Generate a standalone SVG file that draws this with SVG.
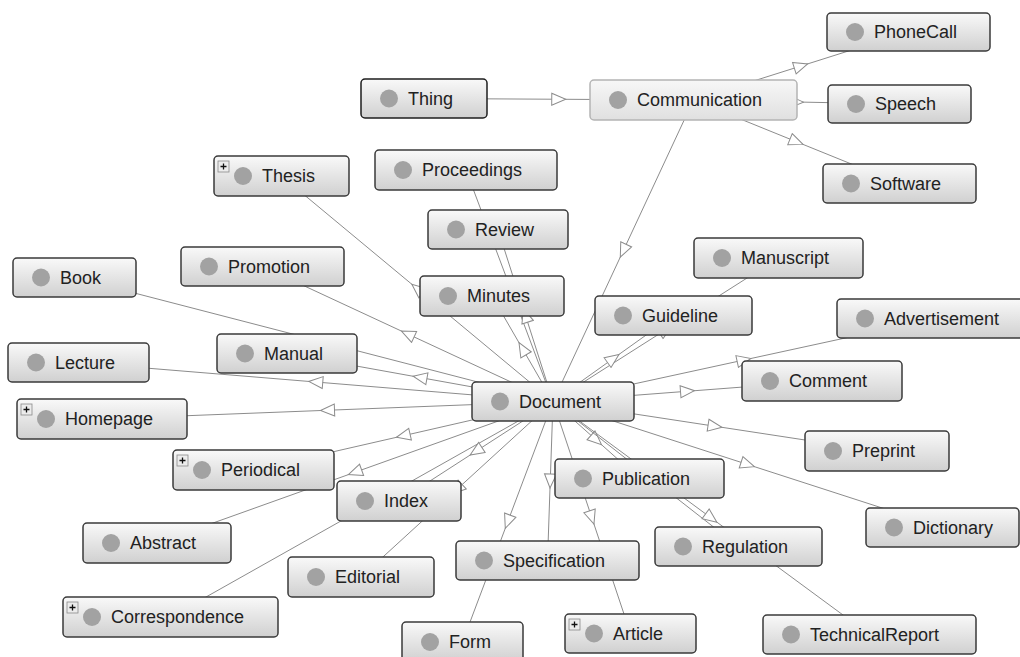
<svg xmlns="http://www.w3.org/2000/svg" width="1020" height="657" viewBox="0 0 1020 657">
<defs>
<linearGradient id="g" x1="0" y1="0" x2="0" y2="1"><stop offset="0" stop-color="#f9f9f9"/><stop offset="1" stop-color="#d0d0d0"/></linearGradient>
<linearGradient id="gc" x1="0" y1="0" x2="0" y2="1"><stop offset="0" stop-color="#f7f7f7"/><stop offset="1" stop-color="#e0e0e0"/></linearGradient>
<marker id="arr" viewBox="-8 -7 16 14" markerWidth="16" markerHeight="14" refX="0" refY="0" orient="auto" markerUnits="userSpaceOnUse"><path d="M-7,-6 L7,0 L-7,6 Z" fill="#fff" stroke="#8c8c8c" stroke-width="1"/></marker>
</defs>
<style>
.box{fill:url(#g);stroke:#3a3a3a;stroke-width:1.5}
.focus{fill:url(#gc);stroke:#b4b4b4;stroke-width:1.5}
.dot{fill:#a2a2a2}
.lbl{font-family:"Liberation Sans",Arial,sans-serif;font-size:18px;fill:#222}
.e{fill:none;stroke:#8c8c8c;stroke-width:1;marker-mid:url(#arr)}
.pb{fill:#ececec;stroke:#8a8a8a;stroke-width:0.8}
.pl{stroke:#111;stroke-width:1.3;fill:none}
</style>
<rect width="1020" height="657" fill="#fff"/>
<g id="connectors">
<polyline class="e" points="424,98.5 558.75,99.25 693.5,100"/>
<polyline class="e" points="693.5,100 801,66 908.5,32"/>
<polyline class="e" points="693.5,100 796.5,102 899.5,104"/>
<polyline class="e" points="693.5,100 796.5,141.75 899.5,183.5"/>
<polyline class="e" points="693.5,100 623.25,250.75 553,401.5"/>
<polyline class="e" points="553,401.5 417.25,288.75 281.5,176"/>
<polyline class="e" points="553,401.5 509.5,285.75 466,170"/>
<polyline class="e" points="553,401.5 525.5,315.5 498,229.5"/>
<polyline class="e" points="553,401.5 522.5,348.75 492,296"/>
<polyline class="e" points="553,401.5 407.75,334 262.5,266.5"/>
<polyline class="e" points="553,401.5 313.75,339.5 74.5,277.5"/>
<polyline class="e" points="553,401.5 420,377.5 287,353.5"/>
<polyline class="e" points="553,401.5 315.75,382 78.5,362.5"/>
<polyline class="e" points="553,401.5 327.5,410.25 102,419"/>
<polyline class="e" points="553,401.5 403.25,435.75 253.5,470"/>
<polyline class="e" points="553,401.5 355,472.25 157,543"/>
<polyline class="e" points="553,401.5 361.75,509.25 170.5,617"/>
<polyline class="e" points="553,401.5 476,451.25 399,501"/>
<polyline class="e" points="553,401.5 457,489.25 361,577"/>
<polyline class="e" points="553,401.5 507.75,521.75 462.5,642"/>
<polyline class="e" points="553,401.5 550.25,481 547.5,560.5"/>
<polyline class="e" points="553,401.5 591.75,517.5 630.5,633.5"/>
<polyline class="e" points="553,401.5 596.25,440 639.5,478.5"/>
<polyline class="e" points="553,401.5 645.75,474 738.5,546.5"/>
<polyline class="e" points="553,401.5 711.25,518 869.5,634.5"/>
<polyline class="e" points="553,401.5 747.75,464.5 942.5,527.5"/>
<polyline class="e" points="553,401.5 715,426.25 877,451"/>
<polyline class="e" points="553,401.5 687.5,391.25 822,381"/>
<polyline class="e" points="553,401.5 744,360 935,318.5"/>
<polyline class="e" points="553,401.5 665.75,329.75 778.5,258"/>
<polyline class="e" points="553,401.5 613.25,358.5 673.5,315.5"/>
</g>
<g id="node-PhoneCall" transform="translate(827,13)"><rect class="box" width="163" height="38" rx="4"/><circle class="dot" cx="28" cy="19" r="9"/><text class="lbl" x="47" y="25">PhoneCall</text></g>
<g id="node-Speech" transform="translate(828,85)"><rect class="box" width="143" height="38" rx="4"/><circle class="dot" cx="28" cy="19" r="9"/><text class="lbl" x="47" y="25">Speech</text></g>
<g id="node-Software" transform="translate(823,164)"><rect class="box" width="153" height="39" rx="4"/><circle class="dot" cx="28" cy="19.5" r="9"/><text class="lbl" x="47" y="25.5">Software</text></g>
<g id="node-Thing" transform="translate(361,79)"><rect class="box" width="126" height="39" rx="4" style="stroke:#1e1e1e"/><circle class="dot" cx="28" cy="19.5" r="9"/><text class="lbl" x="47" y="25.5">Thing</text></g>
<g id="node-Communication" transform="translate(590,80)"><rect class="focus" width="207" height="40" rx="4"/><circle class="dot" cx="28" cy="20" r="9"/><text class="lbl" x="47" y="26">Communication</text></g>
<g id="node-Thesis" transform="translate(214,156)"><rect class="box" width="135" height="40" rx="4"/><rect class="pb" x="4" y="5" width="11" height="11"/><path class="pl" d="M6.5,10.5h6M9.5,7.5v6"/><circle class="dot" cx="29" cy="20" r="9"/><text class="lbl" x="48" y="26">Thesis</text></g>
<g id="node-Proceedings" transform="translate(375,150)"><rect class="box" width="182" height="40" rx="4"/><circle class="dot" cx="28" cy="20" r="9"/><text class="lbl" x="47" y="26">Proceedings</text></g>
<g id="node-Review" transform="translate(428,210)"><rect class="box" width="140" height="39" rx="4"/><circle class="dot" cx="28" cy="19.5" r="9"/><text class="lbl" x="47" y="25.5">Review</text></g>
<g id="node-Promotion" transform="translate(181,247)"><rect class="box" width="163" height="39" rx="4"/><circle class="dot" cx="28" cy="19.5" r="9"/><text class="lbl" x="47" y="25.5">Promotion</text></g>
<g id="node-Book" transform="translate(13,258)"><rect class="box" width="123" height="39" rx="4"/><circle class="dot" cx="28" cy="19.5" r="9"/><text class="lbl" x="47" y="25.5">Book</text></g>
<g id="node-Minutes" transform="translate(420,276)"><rect class="box" width="144" height="40" rx="4"/><circle class="dot" cx="28" cy="20" r="9"/><text class="lbl" x="47" y="26">Minutes</text></g>
<g id="node-Manuscript" transform="translate(694,238)"><rect class="box" width="169" height="40" rx="4"/><circle class="dot" cx="28" cy="20" r="9"/><text class="lbl" x="47" y="26">Manuscript</text></g>
<g id="node-Guideline" transform="translate(595,296)"><rect class="box" width="157" height="39" rx="4"/><circle class="dot" cx="28" cy="19.5" r="9"/><text class="lbl" x="47" y="25.5">Guideline</text></g>
<g id="node-Advertisement" transform="translate(837,299)"><rect class="box" width="196" height="39" rx="4"/><circle class="dot" cx="28" cy="19.5" r="9"/><text class="lbl" x="47" y="25.5">Advertisement</text></g>
<g id="node-Manual" transform="translate(217,334)"><rect class="box" width="140" height="39" rx="4"/><circle class="dot" cx="28" cy="19.5" r="9"/><text class="lbl" x="47" y="25.5">Manual</text></g>
<g id="node-Lecture" transform="translate(8,343)"><rect class="box" width="141" height="39" rx="4"/><circle class="dot" cx="28" cy="19.5" r="9"/><text class="lbl" x="47" y="25.5">Lecture</text></g>
<g id="node-Comment" transform="translate(742,361)"><rect class="box" width="160" height="40" rx="4"/><circle class="dot" cx="28" cy="20" r="9"/><text class="lbl" x="47" y="26">Comment</text></g>
<g id="node-Document" transform="translate(472,382)"><rect class="box" width="162" height="39" rx="4"/><circle class="dot" cx="28" cy="19.5" r="9"/><text class="lbl" x="47" y="25.5">Document</text></g>
<g id="node-Homepage" transform="translate(17,399)"><rect class="box" width="170" height="40" rx="4"/><rect class="pb" x="4" y="5" width="11" height="11"/><path class="pl" d="M6.5,10.5h6M9.5,7.5v6"/><circle class="dot" cx="29" cy="20" r="9"/><text class="lbl" x="48" y="26">Homepage</text></g>
<g id="node-Preprint" transform="translate(805,431)"><rect class="box" width="144" height="40" rx="4"/><circle class="dot" cx="28" cy="20" r="9"/><text class="lbl" x="47" y="26">Preprint</text></g>
<g id="node-Periodical" transform="translate(173,450)"><rect class="box" width="161" height="40" rx="4"/><rect class="pb" x="4" y="5" width="11" height="11"/><path class="pl" d="M6.5,10.5h6M9.5,7.5v6"/><circle class="dot" cx="29" cy="20" r="9"/><text class="lbl" x="48" y="26">Periodical</text></g>
<g id="node-Publication" transform="translate(555,459)"><rect class="box" width="169" height="39" rx="4"/><circle class="dot" cx="28" cy="19.5" r="9"/><text class="lbl" x="47" y="25.5">Publication</text></g>
<g id="node-Index" transform="translate(337,481)"><rect class="box" width="124" height="40" rx="4"/><circle class="dot" cx="28" cy="20" r="9"/><text class="lbl" x="47" y="26">Index</text></g>
<g id="node-Dictionary" transform="translate(866,508)"><rect class="box" width="153" height="39" rx="4"/><circle class="dot" cx="28" cy="19.5" r="9"/><text class="lbl" x="47" y="25.5">Dictionary</text></g>
<g id="node-Abstract" transform="translate(83,523)"><rect class="box" width="148" height="40" rx="4"/><circle class="dot" cx="28" cy="20" r="9"/><text class="lbl" x="47" y="26">Abstract</text></g>
<g id="node-Regulation" transform="translate(655,527)"><rect class="box" width="167" height="39" rx="4"/><circle class="dot" cx="28" cy="19.5" r="9"/><text class="lbl" x="47" y="25.5">Regulation</text></g>
<g id="node-Specification" transform="translate(456,541)"><rect class="box" width="183" height="39" rx="4"/><circle class="dot" cx="28" cy="19.5" r="9"/><text class="lbl" x="47" y="25.5">Specification</text></g>
<g id="node-Editorial" transform="translate(288,557)"><rect class="box" width="146" height="40" rx="4"/><circle class="dot" cx="28" cy="20" r="9"/><text class="lbl" x="47" y="26">Editorial</text></g>
<g id="node-Correspondence" transform="translate(63,597)"><rect class="box" width="215" height="40" rx="4"/><rect class="pb" x="4" y="5" width="11" height="11"/><path class="pl" d="M6.5,10.5h6M9.5,7.5v6"/><circle class="dot" cx="29" cy="20" r="9"/><text class="lbl" x="48" y="26">Correspondence</text></g>
<g id="node-Form" transform="translate(402,622)"><rect class="box" width="121" height="40" rx="4"/><circle class="dot" cx="28" cy="20" r="9"/><text class="lbl" x="47" y="26">Form</text></g>
<g id="node-Article" transform="translate(565,614)"><rect class="box" width="131" height="39" rx="4"/><rect class="pb" x="4" y="5" width="11" height="11"/><path class="pl" d="M6.5,10.5h6M9.5,7.5v6"/><circle class="dot" cx="29" cy="19.5" r="9"/><text class="lbl" x="48" y="25.5">Article</text></g>
<g id="node-TechnicalReport" transform="translate(763,615)"><rect class="box" width="213" height="39" rx="4"/><circle class="dot" cx="28" cy="19.5" r="9"/><text class="lbl" x="47" y="25.5">TechnicalReport</text></g>
</svg>
